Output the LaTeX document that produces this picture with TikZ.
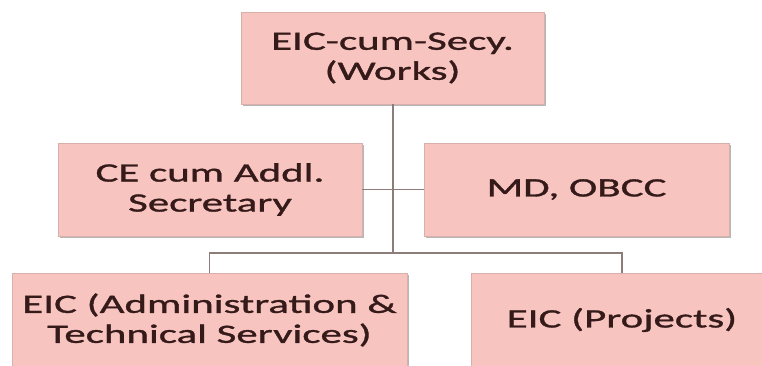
\documentclass[tikz,border=0pt]{standalone}
\usepackage{fontspec}
\setmainfont{Carlito}[FakeStretch=1.62, FakeBold=1.2]
\usetikzlibrary{shadows}
\definecolor{boxfill}{HTML}{F8C4C0}
\definecolor{boxline}{HTML}{D9AFAB}
\definecolor{txtcol}{HTML}{351A1A}
\definecolor{wirecol}{HTML}{8C7D7B}
\tikzset{
  orgbox/.style={rectangle, fill=boxfill, draw=boxline, line width=0.8pt,
    text=txtcol, align=center, inner sep=0pt,
    font=\fontsize{26.5}{30}\selectfont,
    drop shadow={shadow xshift=1.5pt, shadow yshift=-2pt, fill=gray!70, opacity=0.8}},
  wire/.style={draw=wirecol, line width=1.4pt}
}
\begin{document}
\begin{tikzpicture}[x=1pt,y=-1pt]
\clip (0,0) rectangle (762,365);
\fill[white] (0,0) rectangle (762,365);
\node[orgbox, minimum width=303pt, minimum height=92pt] (top) at (392.5,58) {EIC-cum-Secy.\\(Works)};
\node[orgbox, minimum width=304pt, minimum height=93pt] (ml) at (210,189.5) {CE cum Addl.\\Secretary};
\node[orgbox, minimum width=305pt, minimum height=93pt] (mr) at (576.5,189.5) {MD, OBCC};
\node[orgbox, minimum width=395pt, minimum height=94pt] (bl) at (209.5,320) {EIC (Administration \&\\Technical Services)};
\node[orgbox, minimum width=302pt, minimum height=94pt] (br) at (622,320) {EIC (Projects)};
\coordinate (bus) at (393,253);
\draw[wire] (top.south -| bus) -- (bus);
\draw[wire] (ml.east) -- (mr.west);
\draw[wire] (bl.north) |- (bus) -| (br.north);
\end{tikzpicture}
\end{document}
